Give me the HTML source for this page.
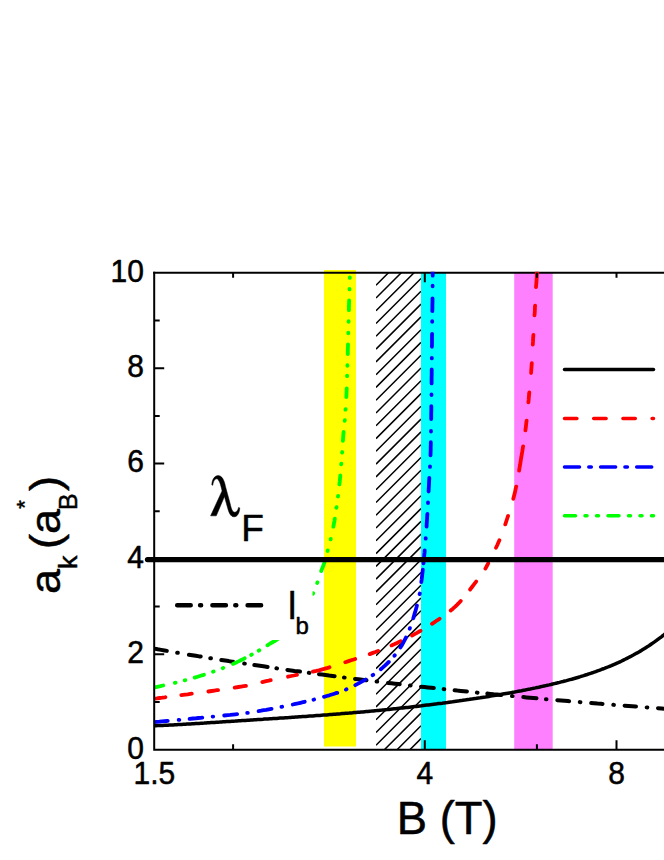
<!DOCTYPE html>
<html><head><meta charset="utf-8"><title>chart</title>
<style>html,body{margin:0;padding:0;background:#fff}svg{display:block}</style>
</head><body>
<svg width="664" height="860" viewBox="0 0 664 860" role="img" aria-label="a_k (a_B*) versus B (T)">
<defs><clipPath id="plot"><rect x="154.2" y="271.8" width="514.8" height="477.9"/></clipPath>
<clipPath id="hc"><rect x="376" y="272.8" width="45" height="476.9"/></clipPath></defs>
<rect width="664" height="860" fill="#fff"/>
<rect x="324" y="270" width="32" height="476.5" fill="#ffff00"/>
<path d="M376.0,272.4 L421.0,227.4 M376.0,285.2 L421.0,240.2 M376.0,298.0 L421.0,253.0 M376.0,310.8 L421.0,265.8 M376.0,323.5 L421.0,278.5 M376.0,336.3 L421.0,291.3 M376.0,349.1 L421.0,304.1 M376.0,361.9 L421.0,316.9 M376.0,374.7 L421.0,329.7 M376.0,387.4 L421.0,342.4 M376.0,400.2 L421.0,355.2 M376.0,413.0 L421.0,368.0 M376.0,425.8 L421.0,380.8 M376.0,438.6 L421.0,393.6 M376.0,451.3 L421.0,406.3 M376.0,464.1 L421.0,419.1 M376.0,476.9 L421.0,431.9 M376.0,489.7 L421.0,444.7 M376.0,502.5 L421.0,457.5 M376.0,515.2 L421.0,470.2 M376.0,528.0 L421.0,483.0 M376.0,540.8 L421.0,495.8 M376.0,553.6 L421.0,508.6 M376.0,566.4 L421.0,521.4 M376.0,579.1 L421.0,534.1 M376.0,591.9 L421.0,546.9 M376.0,604.7 L421.0,559.7 M376.0,617.5 L421.0,572.5 M376.0,630.3 L421.0,585.3 M376.0,643.0 L421.0,598.0 M376.0,655.8 L421.0,610.8 M376.0,668.6 L421.0,623.6 M376.0,681.4 L421.0,636.4 M376.0,694.2 L421.0,649.2 M376.0,706.9 L421.0,661.9 M376.0,719.7 L421.0,674.7 M376.0,732.5 L421.0,687.5 M376.0,745.3 L421.0,700.3 M376.0,758.1 L421.0,713.1 M376.0,770.8 L421.0,725.8 M376.0,783.6 L421.0,738.6 M376.0,796.4 L421.0,751.4" stroke="#000" stroke-width="1.5" fill="none" clip-path="url(#hc)"/>
<rect x="421" y="272.8" width="25" height="476.9" fill="#00ffff"/>
<rect x="514.2" y="272.8" width="38.5" height="476.9" fill="#ff80ff"/>
<path d="M153.2,272.8 H664" stroke="#000" stroke-width="2" fill="none"/>
<g clip-path="url(#plot)">
<path d="M154.2,648.6 L157.7,649.3 L161.1,649.9 L164.6,650.5 L166.8,650.9 M188.9,654.7 L192.3,655.2 L195.8,655.8 L199.2,656.4 L200.7,656.6 M221.3,660.0 L225.2,660.6 L228.7,661.1 L232.1,661.7 L233.1,661.8 M254.3,665.1 L258.1,665.6 L261.6,666.1 L265.0,666.6 L267.6,667.0 M287.4,669.9 L291.0,670.4 L294.5,670.9 L297.9,671.3 L300.0,671.6 M319.0,674.2 L322.2,674.6 L325.6,675.1 L329.1,675.6 L332.6,676.0 L334.6,676.3 M355.0,678.9 L358.5,679.3 L362.0,679.7 L365.5,680.2 L366.5,680.3 M388.0,682.9 L391.5,683.3 L394.9,683.7 L398.4,684.1 L399.7,684.3 M421.0,686.7 L424.4,687.0 L427.8,687.4 L431.3,687.8 L433.8,688.1 M454.6,690.3 L457.3,690.6 L460.7,690.9 L464.2,691.3 L466.9,691.6 M487.3,693.6 L490.2,693.9 L493.6,694.3 L497.1,694.6 L500.6,694.9 L501.3,695.0 M523.3,697.1 L526.5,697.4 L530.0,697.7 L533.5,698.0 L536.5,698.3 M557.3,700.2 L561.2,700.5 L564.6,700.8 L568.1,701.1 L569.1,701.2 M591.2,703.0 L594.1,703.3 L597.5,703.6 L601.0,703.8 L602.5,704.0 M624.6,705.7 L628.7,706.0 L632.2,706.3 L635.6,706.6 L636.0,706.6 M658.0,708.2 L661.6,708.5 L665.1,708.8 L668.5,709.0 L670.0,709.1 M177.2,652.7 L177.8,652.8 M210.3,658.2 L210.9,658.3 M244.2,663.5 L244.8,663.6 M276.4,668.3 L277.0,668.4 M308.8,672.8 L309.4,672.9 M344.0,677.5 L344.6,677.6 M376.6,681.5 L377.2,681.6 M410.0,685.4 L410.6,685.5 M443.7,689.1 L444.3,689.2 M476.9,692.6 L477.5,692.7 M512.0,696.0 L512.6,696.1 M545.9,699.2 L546.5,699.2 M579.8,702.1 L580.4,702.2 M613.3,704.8 L613.9,704.9 M646.7,707.4 L647.3,707.5" fill="none" stroke="#000" stroke-width="4.0" stroke-linecap="round" stroke-linejoin="round"/>
<path d="M154.2,725.8 L155.9,725.7 L157.7,725.6 L159.4,725.5 L161.1,725.5 L162.8,725.4 L164.6,725.3 L166.3,725.2 L168.0,725.2 L169.7,725.1 L171.5,725.0 L173.2,724.9 L174.9,724.8 L176.6,724.7 L178.4,724.6 L180.1,724.5 L181.8,724.4 L183.5,724.3 L185.3,724.2 L187.0,724.1 L188.7,724.0 L190.4,723.9 L192.2,723.8 L193.9,723.7 L195.6,723.6 L197.3,723.5 L199.1,723.4 L200.8,723.3 L202.5,723.2 L204.2,723.1 L206.0,722.9 L207.7,722.8 L209.4,722.7 L211.1,722.6 L212.9,722.5 L214.6,722.4 L216.3,722.3 L218.0,722.2 L219.8,722.1 L221.5,721.9 L223.2,721.8 L224.9,721.7 L226.7,721.6 L228.4,721.5 L230.1,721.4 L231.8,721.3 L233.6,721.2 L235.3,721.1 L237.0,720.9 L238.7,720.8 L240.5,720.7 L242.2,720.6 L243.9,720.5 L245.6,720.4 L247.4,720.3 L249.1,720.2 L250.8,720.0 L252.5,719.9 L254.3,719.8 L256.0,719.7 L257.7,719.6 L259.4,719.5 L261.2,719.4 L262.9,719.3 L264.6,719.1 L266.3,719.0 L268.1,718.9 L269.8,718.8 L271.5,718.7 L273.2,718.6 L275.0,718.5 L276.7,718.4 L278.4,718.2 L280.1,718.1 L281.9,718.0 L283.6,717.9 L285.3,717.8 L287.0,717.7 L288.8,717.6 L290.5,717.4 L292.2,717.3 L293.9,717.2 L295.7,717.1 L297.4,717.0 L299.1,716.8 L300.8,716.7 L302.6,716.6 L304.3,716.5 L306.0,716.4 L307.7,716.2 L309.5,716.1 L311.2,716.0 L312.9,715.9 L314.6,715.7 L316.4,715.6 L318.1,715.5 L319.8,715.4 L321.5,715.2 L323.3,715.1 L325.0,715.0 L326.7,714.9 L328.4,714.7 L330.2,714.6 L331.9,714.5 L333.6,714.3 L335.3,714.2 L337.1,714.0 L338.8,713.9 L340.5,713.8 L342.2,713.6 L344.0,713.5 L345.7,713.3 L347.4,713.2 L349.1,713.1 L350.9,712.9 L352.6,712.8 L354.3,712.6 L356.0,712.5 L357.8,712.3 L359.5,712.2 L361.2,712.0 L362.9,711.9 L364.7,711.7 L366.4,711.5 L368.1,711.4 L369.8,711.2 L371.6,711.1 L373.3,710.9 L375.0,710.7 L376.7,710.6 L378.5,710.4 L380.2,710.2 L381.9,710.1 L383.6,709.9 L385.4,709.7 L387.1,709.6 L388.8,709.4 L390.5,709.2 L392.3,709.0 L394.0,708.8 L395.7,708.7 L397.4,708.5 L399.2,708.3 L400.9,708.1 L402.6,707.9 L404.3,707.7 L406.1,707.5 L407.8,707.4 L409.5,707.2 L411.2,707.0 L413.0,706.8 L414.7,706.6 L416.4,706.4 L418.1,706.2 L419.9,706.0 L421.6,705.8 L423.3,705.5 L425.0,705.3 L426.8,705.1 L428.5,704.9 L430.2,704.7 L431.9,704.5 L433.7,704.3 L435.4,704.1 L437.1,703.8 L438.8,703.6 L440.6,703.4 L442.3,703.2 L444.0,702.9 L445.7,702.7 L447.5,702.5 L449.2,702.2 L450.9,702.0 L452.6,701.8 L454.4,701.5 L456.1,701.3 L457.8,701.1 L459.5,700.8 L461.3,700.6 L463.0,700.3 L464.7,700.1 L466.4,699.8 L468.2,699.6 L469.9,699.3 L471.6,699.1 L473.3,698.8 L475.1,698.6 L476.8,698.3 L478.5,698.0 L480.2,697.8 L482.0,697.5 L483.7,697.2 L485.4,697.0 L487.1,696.7 L488.9,696.4 L490.6,696.1 L492.3,695.8 L494.0,695.6 L495.8,695.3 L497.5,695.0 L499.2,694.7 L500.9,694.4 L502.7,694.1 L504.4,693.8 L506.1,693.5 L507.8,693.2 L509.6,692.9 L511.3,692.6 L513.0,692.3 L514.7,692.0 L516.5,691.6 L518.2,691.3 L519.9,691.0 L521.6,690.7 L523.4,690.3 L525.1,690.0 L526.8,689.6 L528.5,689.3 L530.3,689.0 L532.0,688.6 L533.7,688.2 L535.4,687.9 L537.2,687.5 L538.9,687.2 L540.6,686.8 L542.3,686.4 L544.1,686.0 L545.8,685.6 L547.5,685.2 L549.2,684.9 L551.0,684.5 L552.7,684.0 L554.4,683.6 L556.1,683.2 L557.9,682.8 L559.6,682.4 L561.3,681.9 L563.0,681.5 L564.8,681.0 L566.5,680.6 L568.2,680.1 L569.9,679.6 L571.7,679.2 L573.4,678.7 L575.1,678.2 L576.8,677.7 L578.6,677.2 L580.3,676.7 L582.0,676.1 L583.7,675.6 L585.5,675.0 L587.2,674.5 L588.9,673.9 L590.6,673.3 L592.4,672.8 L594.1,672.2 L595.8,671.6 L597.5,670.9 L599.3,670.3 L601.0,669.7 L602.7,669.0 L604.4,668.4 L606.2,667.7 L607.9,667.0 L609.6,666.3 L611.3,665.6 L613.1,664.8 L614.8,664.1 L616.5,663.3 L618.2,662.6 L620.0,661.8 L621.7,661.0 L623.4,660.1 L625.1,659.3 L626.9,658.4 L628.6,657.5 L630.3,656.7 L632.0,655.7 L633.8,654.8 L635.5,653.8 L637.2,652.9 L638.9,651.9 L640.7,650.9 L642.4,649.8 L644.1,648.8 L645.8,647.7 L647.6,646.6 L649.3,645.5 L651.0,644.3 L652.7,643.1 L654.5,641.9 L656.2,640.7 L657.9,639.4 L659.6,638.1 L661.4,636.8 L663.1,635.5 L664.8,634.1 L666.5,632.7 L668.3,631.3 L670.0,629.8" fill="none" stroke="#000" stroke-width="3.5"/>
<path d="M154.2,698.7 L156.9,698.4 L159.6,698.0 L162.2,697.7 L164.9,697.3 L165.4,697.2 M181.3,695.1 L185.0,694.6 L187.6,694.3 L190.3,693.9 L191.8,693.7 M208.4,691.5 L211.7,691.0 L214.4,690.6 L217.0,690.2 L218.1,690.1 M234.7,687.6 L238.4,687.0 L241.0,686.6 L243.7,686.2 L246.0,685.9 M262.3,682.1 L266.1,681.2 L268.7,680.7 L270.7,680.2 M288.0,676.7 L291.2,676.0 L293.8,675.5 L296.5,674.9 L297.0,674.8 M312.9,671.6 L316.3,670.9 L318.9,670.3 L321.5,669.6 L324.1,668.9 L326.7,668.2 L329.3,667.4 L329.5,667.3 M345.3,662.2 L348.6,661.1 L351.1,660.3 L353.7,659.5 L355.2,659.0 M369.7,654.1 L372.9,652.9 L375.4,652.0 L377.9,651.0 L378.1,650.9 M391.5,645.4 L394.1,644.3 L396.5,643.2 L399.0,642.0 L400.7,641.2 M412.0,635.5 L414.6,634.1 L417.0,632.8 L419.3,631.5 L420.5,630.8 M432.0,623.8 L434.3,622.3 L436.5,620.8 L438.8,619.3 L439.6,618.7 M450.7,610.5 L452.9,608.7 L454.9,606.9 L456.8,605.1 L458.7,603.2 L460.5,601.3 L460.8,600.9 M470.1,589.5 L472.4,586.5 L474.0,584.4 L475.7,582.2 L476.2,581.5 M485.4,568.6 L487.1,565.5 L488.2,563.3 M496.0,547.7 L497.3,545.0 L498.4,542.5 L499.4,540.2 M505.3,524.4 L506.4,521.0 L507.2,518.5 L508.1,515.9 L508.1,515.8 M513.3,498.8 L514.2,495.2 L514.9,492.6 L515.4,490.0 L516.0,487.3 L516.2,486.6 M519.1,470.6 L519.6,467.4 L520.1,464.7 L520.5,462.1 L520.9,459.4 L521.4,456.7 L521.8,454.1 L522.3,451.4 L522.7,448.8 L523.1,446.3 M525.4,430.4 L525.8,427.4 L526.1,424.7 L526.4,422.0 L526.6,420.7 M528.4,402.3 L528.7,399.2 L528.9,396.5 L529.2,393.8 L529.3,392.5 M531.1,373.0 L531.3,369.7 L531.5,367.0 L531.7,364.3 L531.8,363.2 M532.8,344.7 L533.0,341.4 L533.1,338.7 L533.3,336.0 L533.4,334.9 M534.5,315.4 L534.8,311.8 L534.9,309.1 L535.0,306.4 L535.1,305.6 M536.0,287.2 L536.3,283.5 L536.5,280.8 L536.7,278.1 L536.8,275.4 L537.0,272.7 L537.0,271.9" fill="none" stroke="#f00" stroke-width="3.8" stroke-linecap="round" stroke-linejoin="round"/>
<path d="M154.2,722.1 L156.8,721.9 L159.4,721.7 L161.9,721.4 L164.5,721.2 L167.1,721.0 L167.7,720.9 M189.6,718.9 L192.9,718.5 L195.5,718.3 L198.1,718.0 L200.6,717.8 L202.3,717.6 M224.2,715.5 L227.7,715.1 L230.3,714.9 L232.9,714.6 L235.5,714.3 L237.1,714.1 M258.6,711.1 L261.1,710.7 L263.6,710.2 L266.2,709.8 L268.7,709.3 L271.3,708.8 L271.6,708.8 M292.8,704.5 L295.4,703.9 L297.9,703.4 L300.5,702.8 L303.0,702.2 L304.7,701.8 M324.0,696.8 L326.8,696.0 L329.3,695.3 L331.8,694.5 L334.3,693.7 L336.7,692.9 L337.3,692.8 M355.3,685.2 L358.1,683.7 L360.4,682.4 L362.6,681.2 L364.9,679.9 L365.5,679.6 M380.8,669.2 L382.9,667.4 L384.9,665.6 L386.8,663.8 L388.7,662.0 L388.8,661.9 M400.4,647.5 L402.2,644.7 L403.4,642.4 L404.6,640.1 L405.8,637.8 L405.9,637.5 M178.7,719.9 L179.3,719.8 M212.6,716.6 L213.2,716.6 M247.2,712.9 L247.8,712.8 M281.5,706.9 L282.1,706.7 M313.5,699.7 L314.1,699.5 M345.9,689.6 L346.5,689.3 M372.6,675.2 L373.2,674.8 M394.4,655.8 L394.8,655.3 M409.7,628.7 L409.9,628.1 M413.3,618.2 L414.3,614.7 L415.1,612.2 L415.8,609.7 L416.5,607.2 L416.9,605.5 M421.3,582.1 L421.7,579.3 L422.0,576.7 L422.3,574.1 L422.6,571.5 L422.8,569.6 M423.5,563.4 L423.8,560.0 L424.1,557.4 L424.3,554.8 L424.6,552.2 L424.7,550.4 M426.6,526.6 L426.7,523.8 L426.9,521.2 L427.1,518.6 L427.2,516.0 L427.4,513.9 M428.6,491.5 L428.7,488.9 L428.9,486.3 L429.0,483.7 L429.1,481.1 L429.3,478.5 L429.3,477.8 M430.5,455.4 L430.6,452.7 L430.7,450.1 L430.7,447.5 L430.8,444.9 L430.8,442.3 L430.8,442.2 M431.2,419.0 L431.2,416.4 L431.2,413.8 L431.3,411.2 L431.3,408.6 L431.3,406.1 M431.6,383.4 L431.6,380.1 L431.6,377.5 L431.7,374.9 L431.7,372.3 L431.7,369.7 L431.7,369.5 M431.9,346.8 L432.0,343.8 L432.0,341.2 L432.0,338.7 L432.0,336.1 L432.1,333.9 M432.3,311.2 L432.4,307.6 L432.4,305.0 L432.5,302.4 L432.5,299.8 L432.5,298.3 M432.7,275.7 L432.7,272.6 L432.7,271.9 M419.6,594.1 L419.8,593.5 M425.7,538.7 L425.7,538.1 M428.0,503.0 L428.0,502.4 M430.0,466.9 L430.0,466.3 M431.0,431.6 L431.0,431.0 M431.5,395.1 L431.5,394.5 M431.8,358.4 L431.8,357.8 M432.2,321.8 L432.2,321.2 M432.6,286.3 L432.6,285.7" fill="none" stroke="#00f" stroke-width="3.8" stroke-linecap="round" stroke-linejoin="round"/>
<path d="M154.2,687.4 L157.3,686.8 L160.3,686.2 L163.2,685.5 M194.7,677.6 L197.6,676.7 L200.6,675.8 L203.6,674.9 L203.9,674.8 M233.0,663.9 L235.7,662.7 L238.5,661.4 L241.3,660.0 L244.1,658.6 L244.7,658.3 M267.4,645.3 L270.2,643.5 L272.9,642.0 L275.7,640.5 L278.2,638.7 L278.5,638.5 M174.9,682.9 L175.5,682.7 M184.7,680.4 L185.3,680.2 M213.0,671.7 L213.6,671.5 M222.7,668.2 L223.3,667.9 M251.2,654.9 L251.8,654.5 M258.7,650.7 L259.3,650.3 M312.9,593.8 L313.2,593.2 M317.2,583.0 L317.4,582.4 M327.6,551.0 L327.7,550.4 M330.6,539.4 L330.7,538.8 M336.4,507.8 L336.5,507.2 M338.0,496.5 L338.1,495.9 M341.2,464.3 L341.3,463.7 M342.1,452.6 L342.2,452.0 M344.7,420.8 L344.8,420.2 M345.5,409.7 L345.6,409.1 M347.1,376.2 L347.1,375.6 M347.4,365.8 L347.4,365.2 M348.3,333.3 L348.3,332.7 M348.6,321.8 L348.6,321.2 M349.5,289.4 L349.5,288.8 M349.8,277.9 L349.8,277.3 M321.2,571.0 L322.2,568.4 L323.4,565.5 L324.4,562.5 L324.6,561.8 M333.4,526.7 L333.8,524.2 L334.4,521.1 L334.8,518.6 M339.4,484.4 L339.7,481.9 L340.0,478.8 L340.3,475.7 L340.3,475.4 M342.9,440.9 L343.1,438.3 L343.3,435.2 L343.6,432.1 L343.6,432.0 M346.3,397.1 L346.5,393.7 L346.6,390.6 L346.7,388.3 M347.8,354.1 L347.8,351.1 L347.9,348.0 L348.0,344.9 L348.0,344.3 M348.9,310.2 L348.9,307.4 L349.0,304.3 L349.1,301.2 L349.1,300.4" fill="none" stroke="#0f0" stroke-width="3.8" stroke-linecap="round" stroke-linejoin="round"/>
</g>
<line x1="147.5" y1="559.6" x2="670" y2="559.6" stroke="#000" stroke-width="5.3" stroke-linecap="round"/>
<rect x="168" y="584" width="144.5" height="56" fill="#fff"/>
<path d="M177.2,605.3 H264" fill="none" stroke="#000" stroke-width="4.5" stroke-linecap="round" stroke-dasharray="13.5 9.4 1 11.3"/>
<g fill="none" stroke-width="3.5" stroke-linecap="round">
<path d="M564.5,369.4 H653.5" stroke="#000"/>
<path d="M564.5,418.4 H653.5" stroke="#f00" stroke-dasharray="12.4 16.8"/>
<path d="M564.5,467.1 H653.5" stroke="#00f" stroke-dasharray="15 9.3 2.5 9.3"/>
<path d="M564.5,515.7 H653.5" stroke="#0f0" stroke-dasharray="11 9.5 2 9.5 2 9.5"/>
</g>
<path d="M154.2,272.8 V749.7 M154.2,749.7 H664" stroke="#000" stroke-width="2" fill="none" stroke-linecap="square"/>
<path d="M154.2,702.0 h5.5 M154.2,654.3 h10.0 M154.2,606.6 h5.5 M154.2,558.9 h10.0 M154.2,511.2 h5.5 M154.2,463.6 h10.0 M154.2,415.9 h5.5 M154.2,368.2 h10.0 M154.2,320.5 h5.5 M233.1,749.7 v-5.5 M233.1,272.8 v5.0 M424.8,749.7 v-9.5 M424.8,272.8 v9.5 M536.9,749.7 v-5.5 M536.9,272.8 v5.0 M616.5,749.7 v-9.5 M616.5,272.8 v5.0" stroke="#000" stroke-width="2" fill="none"/>
<g font-family="Liberation Sans, sans-serif" fill="#000" stroke="#000" stroke-width="0.5" stroke-linejoin="round">
<text transform="translate(143.9,758.5) scale(1,1.075)" font-size="30" text-anchor="end">0</text>
<text transform="translate(143.9,663.1) scale(1,1.075)" font-size="30" text-anchor="end">2</text>
<text transform="translate(143.9,567.7) scale(1,1.075)" font-size="30" text-anchor="end">4</text>
<text transform="translate(143.9,472.4) scale(1,1.075)" font-size="30" text-anchor="end">6</text>
<text transform="translate(143.9,377.0) scale(1,1.075)" font-size="30" text-anchor="end">8</text>
<text transform="translate(143.9,281.6) scale(1,1.075)" font-size="30" text-anchor="end">10</text>
<text transform="translate(154.4,783.6) scale(1,1.075)" font-size="30" text-anchor="middle">1.5</text>
<text transform="translate(424.8,783.6) scale(1,1.075)" font-size="30" text-anchor="middle">4</text>
<text transform="translate(616.5,783.6) scale(1,1.075)" font-size="30" text-anchor="middle">8</text>
<text transform="translate(396.8,833.5) scale(1,1.000)" font-size="45.4" text-anchor="start">B (T)</text>
<g transform="translate(60.3,594) rotate(-90)">
<text transform="translate(0.0,0.0) scale(1,0.960)" font-size="45" text-anchor="start">a</text>
<text transform="translate(25.0,17.0) scale(1,0.970)" font-size="27" text-anchor="start">k</text>
<text transform="translate(45.0,0.0) scale(1,0.960)" font-size="45" text-anchor="start">(</text>
<text transform="translate(60.0,0.0) scale(1,0.960)" font-size="45" text-anchor="start">a</text>
<text transform="translate(84.0,17) scale(0.92,0.97)" font-size="27">B</text>
<text transform="translate(85.2,-28.0) scale(1,1.000)" font-size="22" text-anchor="start">*</text>
<text transform="translate(103.0,0.0) scale(1,0.960)" font-size="45" text-anchor="start">)</text>
</g>
<path d="M211.81,484.88 C212.05,479.46 214.46,475.84 218.07,475.60 C221.69,475.60 224.10,479.46 225.54,486.69 L230.12,503.55 C231.33,508.98 232.53,512.23 234.70,512.23 C236.75,512.23 237.95,510.18 238.55,507.41 L239.76,507.89 C239.52,513.19 237.35,516.81 233.98,516.81 C230.36,516.81 228.67,511.99 227.23,506.57 L224.46,496.57 L216.27,515.84 L210.60,515.84 L222.05,490.90 C220.72,484.88 219.28,479.22 216.63,478.86 C214.46,478.86 213.25,481.87 212.77,485.24 Z" fill="#000"><title>λ</title></path>
<text transform="translate(241.2,540.7) scale(1,1.000)" font-size="37" text-anchor="start">F</text>
<text transform="translate(287.9,618.8) scale(1,1.050)" font-size="37.5" text-anchor="start">l</text>
<text transform="translate(295.6,634.4) scale(1,1.000)" font-size="24" text-anchor="start">b</text>
</g>
</svg>
</body></html>
